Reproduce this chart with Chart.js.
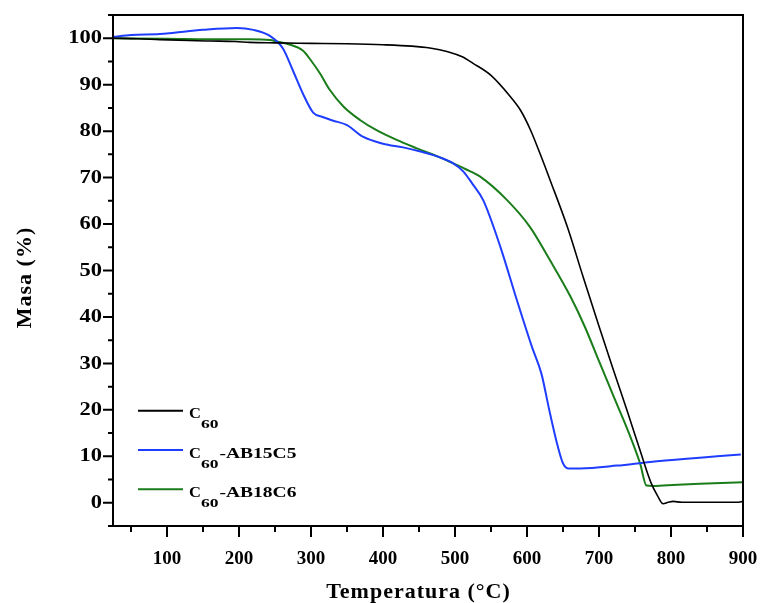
<!DOCTYPE html>
<html><head><meta charset="utf-8">
<script src="https://cdn.jsdelivr.net/npm/chart.js@4.4.1/dist/chart.umd.min.js"></script>
<style>html,body{margin:0;padding:0;background:#fff;overflow:hidden}</style>
</head><body>
<canvas id="c" width="761" height="603" style="width:761px;height:603px;display:block"></canvas>
<script>
// ---- data ----
const seriesNames = ['C60', 'C60-AB15C5', 'C60-AB18C6'];
const seriesColors = ['#000000', '#1f3dff', '#1a7d1a'];

const tempC60 = [25, 60, 90, 130, 160, 195, 215, 250, 300, 350, 400, 440, 465, 490, 510, 525, 550, 577, 591, 605, 619, 632, 656, 678, 700, 720, 740, 758, 772, 781, 789, 796, 803, 815, 860, 892, 900];
const massC60 = [100, 99.9, 99.7, 99.5, 99.4, 99.3, 99.1, 99.0, 98.9, 98.8, 98.6, 98.3, 97.9, 97.1, 96.0, 94.6, 92.0, 87.4, 84.5, 80.2, 74.8, 69.5, 59.4, 48.6, 38.0, 28.6, 19.4, 10.8, 4.4, 1.6, -0.2, 0.1, 0.3, 0.1, 0.1, 0.1, 0.3];

const tempAB15 = [25, 50, 90, 110, 150, 197, 220, 243, 261, 275, 289, 303, 317, 330, 350, 372, 400, 428, 452, 480, 497, 511, 525, 539, 563, 586, 607, 620, 632, 643, 650, 657, 674, 725, 771, 822, 864, 897];
const massAB15 = [100.3, 100.7, 100.9, 101.2, 101.8, 102.2, 101.8, 100.5, 97.8, 93.0, 88.0, 84.0, 83.0, 82.3, 81.3, 78.8, 77.3, 76.5, 75.6, 74.3, 73.1, 71.4, 68.5, 65.2, 55.1, 43.6, 33.5, 27.8, 19.2, 12.0, 8.5, 7.4, 7.4, 8.0, 8.8, 9.5, 10.0, 10.4];

const tempAB18 = [25, 100, 160, 215, 243, 252, 271, 289, 300, 313, 326, 345, 368, 391, 419, 447, 483, 497, 515, 535, 572, 604, 632, 660, 680, 700, 720, 740, 757, 766, 775, 789, 840, 900];
const massAB18 = [100, 99.9, 99.8, 99.8, 99.6, 99.3, 98.6, 97.3, 95.2, 92.3, 88.9, 85.3, 82.4, 80.2, 78.1, 76.3, 74.1, 73.1, 71.8, 70.2, 65.2, 59.4, 52.2, 44.5, 38.0, 30.5, 23.0, 15.6, 8.5, 3.7, 3.6, 3.7, 4.1, 4.4];

const xTickLabels = [100, 200, 300, 400, 500, 600, 700, 800, 900];
const xMinorTicks = [50, 150, 250, 350, 450, 550, 650, 750, 850];
const yTickLabels = [0, 10, 20, 30, 40, 50, 60, 70, 80, 90, 100];
const yMinorTicks = [-5, 5, 15, 25, 35, 45, 55, 65, 75, 85, 95, 105];

const xTitle = 'Temperatura (°C)';
const yTitle = 'Masa (%)';

// ---- build ----
const zip = (xs, ys) => xs.map((v, i) => ({x: v, y: ys[i]}));
const temps = [tempC60, tempAB15, tempAB18];
const masses = [massC60, massAB15, massAB18];
const widths = [1.6, 2, 2];

const FONT = '"Liberation Serif", "Times New Roman", serif';

function stretchText(ctx, text, x, y, sx) {
  ctx.save();
  ctx.translate(x, y);
  ctx.scale(sx, 1);
  ctx.fillText(text, 0, 0);
  ctx.restore();
  return ctx.measureText(text).width * sx;
}

const decor = {
  id: 'decor',
  afterDraw(chart) {
    const {ctx, chartArea: a, scales: {x, y}} = chart;
    ctx.save();
    ctx.strokeStyle = '#000';
    ctx.lineWidth = 2;
    ctx.lineCap = 'butt';
    ctx.strokeRect(a.left, a.top, a.right - a.left, a.bottom - a.top);
    ctx.beginPath();
    xTickLabels.forEach(v => { const p = x.getPixelForValue(v); ctx.moveTo(p, a.bottom); ctx.lineTo(p, a.bottom + 11); });
    xMinorTicks.forEach(v => { const p = x.getPixelForValue(v); ctx.moveTo(p, a.bottom); ctx.lineTo(p, a.bottom + 6); });
    yTickLabels.forEach(v => { const p = y.getPixelForValue(v); ctx.moveTo(a.left, p); ctx.lineTo(a.left - 10, p); });
    yMinorTicks.forEach(v => { const p = y.getPixelForValue(v); ctx.moveTo(a.left, p); ctx.lineTo(a.left - 5, p); });
    ctx.stroke();

    ctx.fillStyle = '#000';
    // y tick labels (wide face, as in the reference)
    ctx.font = 'bold 18px ' + FONT;
    ctx.textAlign = 'right';
    ctx.textBaseline = 'middle';
    yTickLabels.forEach(v => stretchText(ctx, String(v), a.left - 11, y.getPixelForValue(v) + 0.5, 1.25));

    // axis titles
    ctx.font = 'bold 22px ' + FONT;
    ctx.letterSpacing = '1px';
    ctx.textAlign = 'center';
    ctx.textBaseline = 'alphabetic';
    ctx.fillText(xTitle, (a.left + a.right) / 2 - 9.5, 598);
    ctx.save();
    ctx.translate(31, (a.top + a.bottom) / 2 + 7);
    ctx.rotate(-Math.PI / 2);
    ctx.fillText(yTitle, 0, 0);
    ctx.restore();
    ctx.letterSpacing = '0px';

    // legend
    const lx0 = 138, lx1 = 183, ly0 = 410.7, dy = 39.3;
    seriesNames.forEach((name, i) => {
      const ly = ly0 + i * dy;
      ctx.strokeStyle = seriesColors[i];
      ctx.lineWidth = 2;
      ctx.beginPath(); ctx.moveTo(lx0, ly); ctx.lineTo(lx1, ly); ctx.stroke();
      ctx.textAlign = 'left';
      ctx.fillStyle = '#000';
      let tx = 189;
      ctx.font = 'bold 15px ' + FONT;
      tx += stretchText(ctx, name.slice(0, 1), tx, ly + 7.6, 1.1);
      ctx.font = 'bold 13px ' + FONT;
      tx += stretchText(ctx, name.slice(1, 3), tx, ly + 17.6, 1.35);
      ctx.font = 'bold 15px ' + FONT;
      stretchText(ctx, name.slice(3), tx + 1, ly + 7.6, 1.3);
    });
    ctx.restore();
  }
};

new Chart(document.getElementById('c'), {
  type: 'line',
  data: {
    datasets: seriesNames.map((n, i) => ({
      label: n,
      data: zip(temps[i], masses[i]),
      borderColor: seriesColors[i],
      borderWidth: widths[i],
      pointRadius: 0,
      cubicInterpolationMode: 'monotone',
      fill: false
    }))
  },
  options: {
    responsive: false,
    devicePixelRatio: 1,
    animation: false,
    layout: {padding: {left: 0, top: 15, right: 18, bottom: 0}},
    plugins: {legend: {display: false}, tooltip: {enabled: false}, title: {display: false}},
    scales: {
      x: {
        type: 'linear', min: 25, max: 900,
        afterFit: s => { s.height = 77; s.paddingLeft = 0; s.paddingRight = 0; },
        afterBuildTicks: s => { s.ticks = xTickLabels.map(v => ({value: v})); },
        grid: {display: false}, border: {display: false},
        ticks: {padding: 14, color: '#000', font: {family: FONT, size: 19, weight: 'bold'}, maxRotation: 0, autoSkip: false}
      },
      y: {
        type: 'linear', min: -5, max: 105,
        afterFit: s => { s.width = 113; s.paddingTop = 0; s.paddingBottom = 0; },
        afterBuildTicks: s => { s.ticks = yTickLabels.map(v => ({value: v})); },
        grid: {display: false}, border: {display: false},
        ticks: {display: false}
      }
    }
  },
  plugins: [decor]
});
</script>
</body></html>
